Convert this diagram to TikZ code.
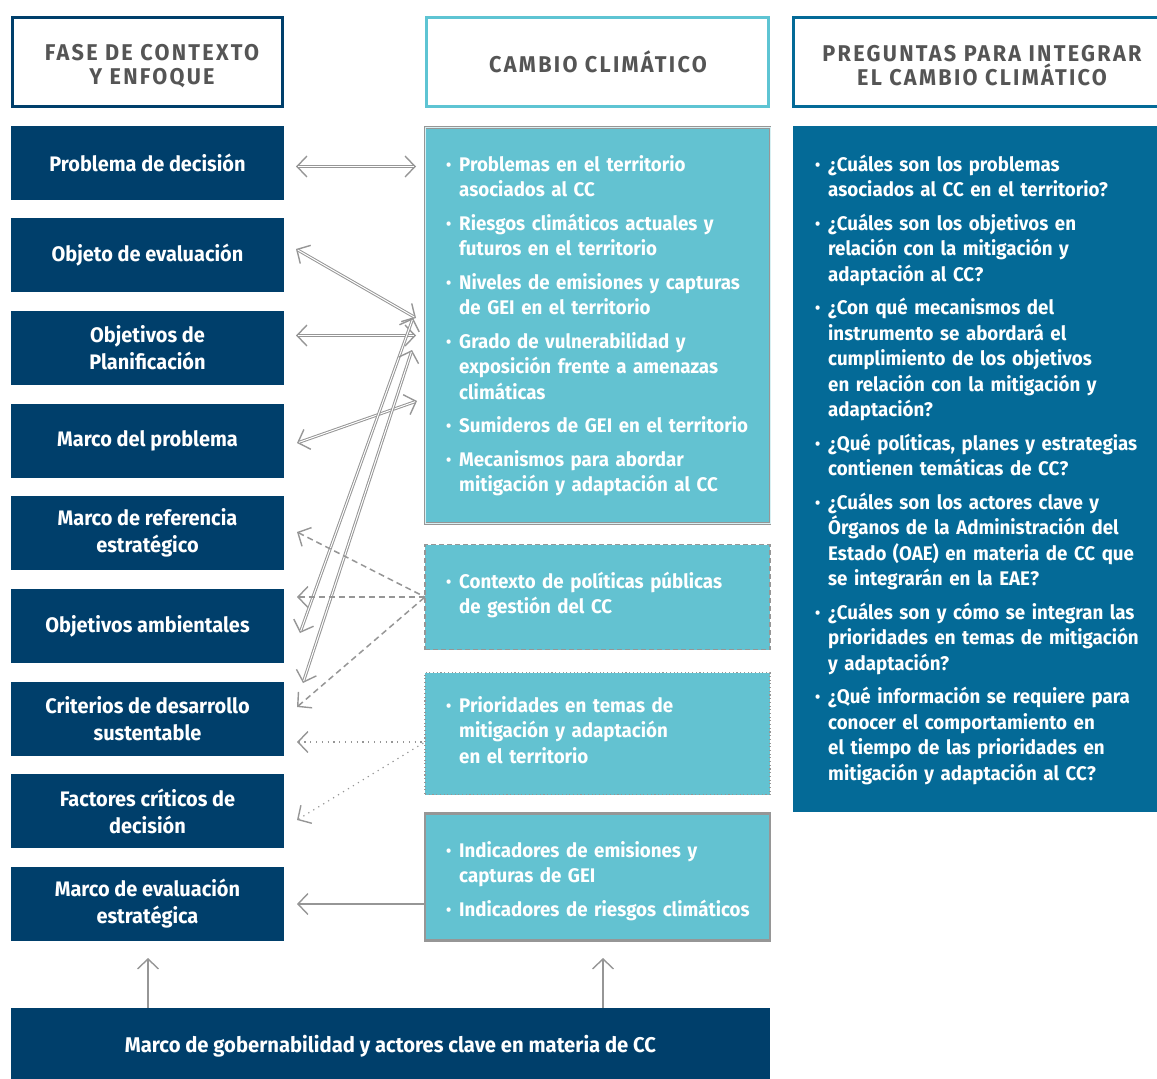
\documentclass[tikz,border=0pt]{standalone}
\usepackage{fontspec}
\setmainfont{Fira Sans}[FakeStretch=0.95]
\usetikzlibrary{arrows.meta,calc}
\definecolor{dkblue}{HTML}{003F6B}
\definecolor{tealbox}{HTML}{63C2D1}
\definecolor{rblue}{HTML}{046A97}
\definecolor{hdteal}{HTML}{5EC4D3}
\definecolor{hdtext}{HTML}{555555}
\definecolor{agray}{HTML}{969696}
\newcommand{\bu}{\makebox[13pt][l]{\raisebox{1pt}{\scalebox{0.8}{\textbullet}}}}
\newcommand{\ind}{\hspace*{13pt}}
\begin{document}
\begin{tikzpicture}[x=1pt,y=-1pt,
  >={Straight Barb[length=10pt,width=21pt,line width=1.4pt]},
  hdbox/.style={draw, line width=3pt, fill=white, minimum width=270pt, minimum height=89pt, inner sep=0pt},
  hdtextstyle/.style={align=center, inner sep=0pt, text=hdtext,
     font=\fontsize{22.8}{24}\selectfont\bfseries\addfontfeatures{LetterSpace=10}},
  leftbox/.style={fill=dkblue, minimum width=273pt, minimum height=74pt, align=center, inner sep=0pt,
     text=white, font=\fontsize{21}{27}\selectfont\bfseries},
  midbox/.style={fill=tealbox, minimum width=345pt, inner sep=0pt},
  itemtext/.style={text=white, anchor=base west, inner sep=0pt, text width=330pt,
     font=\fontsize{19.7}{25.5}\selectfont\bfseries, align=left},
  dline/.style={draw=agray, line width=3pt, <->,
     postaction={draw=white, line width=1pt, shorten <=2pt, shorten >=2pt, -}},
  dshline/.style={draw=agray, line width=1.5pt, dash pattern=on 6pt off 4pt, <-},
  dotline/.style={draw=agray, line width=1.2pt, dash pattern=on 1.2pt off 4.6pt, <-},
  plainline/.style={draw=agray, line width=1.8pt, <-}
]
\clip (0,0) rectangle (1157,1079);
\useasboundingbox (0,0) rectangle (1157,1079);

% headers
\node[hdbox, draw=dkblue] (h1) at (147.5,62) {};
\node[hdbox, draw=hdteal, minimum width=342pt] (h2) at (597.5,62) {};
\node[hdbox, draw=rblue, minimum width=380pt] (h3) at (983,62) {};
\node[hdtextstyle] (h1t) at (152,66) {FASE DE CONTEXTO\\Y ENFOQUE};
\node[hdtextstyle] (h2t) at (598,62) {CAMBIO CLIMÁTICO};
\node[hdtextstyle] (h3t) at (982,66) {PREGUNTAS PARA INTEGRAR\\EL CAMBIO CLIMÁTICO};

% left column
\node[leftbox] (prob) at (147.5,163) {\raisebox{-1.5pt}{Problema de decisión}};
\node[leftbox] (obj)  at (147.5,255) {\raisebox{-1.5pt}{Objeto de evaluación}};
\node[leftbox] (plan) at (147.5,348) {Objetivos de\\Planificación};
\node[leftbox] (mprob) at (147.5,441) {\raisebox{-1.5pt}{Marco del problema}};
\node[leftbox] (mref) at (147.5,533) {Marco de referencia\\estratégico};
\node[leftbox] (oamb) at (147.5,626) {\raisebox{-1.5pt}{Objetivos ambientales}};
\node[leftbox] (crit) at (147.5,719) {Criterios de desarrollo\\sustentable};
\node[leftbox] (fcd)  at (147.5,811) {Factores críticos de\\decisión};
\node[leftbox] (meval) at (147.5,904) {Marco de evaluación\\estratégica};

% middle column boxes
\node[midbox, minimum height=396pt, draw=agray, double=white!75!tealbox, double distance=1pt, line width=0.8pt] (m1) at (597.5,325.5) {};
\node[midbox, minimum height=105pt, draw=agray, line width=1.5pt, dash pattern=on 5pt off 3pt] (m2) at (597.5,597) {};
\node[midbox, minimum height=122pt, draw=agray, line width=1.1pt, dash pattern=on 1.1pt off 2.6pt] (m3) at (597.5,733.5) {};
\node[midbox, minimum height=127pt, draw=agray, line width=2.5pt] (m4) at (597.5,877) {};

\node[itemtext] (t1) at (446,171) {%
\bu Problemas en el territorio\\ \ind asociados al CC\\[8pt]
\bu Riesgos climáticos actuales y\\ \ind futuros en el territorio\\[8pt]
\bu Niveles de emisiones y capturas\\ \ind de GEI en el territorio\\[8pt]
\bu Grado de vulnerabilidad y\\ \ind exposición frente a amenazas\\ \ind climáticas\\[8pt]
\bu Sumideros de GEI en el territorio\\[8pt]
\bu Mecanismos para abordar\\ \ind mitigación y adaptación al CC};
\node[itemtext] (t2) at (446,588) {%
\bu Contexto de políticas públicas\\ \ind de gestión del CC};
\node[itemtext] (t3) at (446,712) {%
\bu Prioridades en temas de\\ \ind mitigación y adaptación\\ \ind en el territorio};
\node[itemtext] (t4) at (446,857) {%
\bu Indicadores de emisiones y\\ \ind capturas de GEI\\[8pt]
\bu Indicadores de riesgos climáticos};

% right panel
\node[fill=rblue, minimum width=370pt, minimum height=686pt, inner sep=0pt] (rp) at (978,469) {};
\node[itemtext, text width=340pt] (t5) at (815,171) {%
\bu ¿Cuáles son los problemas\\ \ind asociados al CC en el territorio?\\[8pt]
\bu ¿Cuáles son los objetivos en\\ \ind relación con la mitigación y\\ \ind adaptación al CC?\\[8pt]
\bu ¿Con qué mecanismos del\\ \ind instrumento se abordará el\\ \ind cumplimiento de los objetivos\\ \ind en relación con la mitigación y\\ \ind adaptación?\\[8pt]
\bu ¿Qué políticas, planes y estrategias\\ \ind contienen temáticas de CC?\\[8pt]
\bu ¿Cuáles son los actores clave y\\ \ind Órganos de la Administración del\\ \ind Estado (OAE) en materia de CC que\\ \ind se integrarán en la EAE?\\[8pt]
\bu ¿Cuáles son y cómo se integran las\\ \ind prioridades en temas de mitigación\\ \ind y adaptación?\\[8pt]
\bu ¿Qué información se requiere para\\ \ind conocer el comportamiento en\\ \ind el tiempo de las prioridades en\\ \ind mitigación y adaptación al CC?};

% bottom box
\node[fill=dkblue, minimum width=759pt, minimum height=71pt, inner sep=0pt] (gob) at (390.5,1043.5) {};
\node[inner sep=0pt, text=white, font=\fontsize{21.3}{24}\selectfont\bfseries] (gobt) at (390.5,1046)
  {Marco de gobernabilidad y actores clave en materia de CC};

% connector end points
\coordinate (pa1) at (296,166.5); \coordinate (pa2) at (416,166.5);
\coordinate (pb1) at (296,249); \coordinate (pb2) at (416,318);
\coordinate (pc1) at (296,335.5); \coordinate (pc2) at (416,335.5);
\coordinate (pd1) at (297,443); \coordinate (pd2) at (417,401);
\coordinate (pe1) at (300,633); \coordinate (pe2) at (413,318);
\coordinate (pf1) at (303,683); \coordinate (pf2) at (412,350);
\coordinate (qs) at (425,597);
\coordinate (q1) at (297,532); \coordinate (q2) at (297,597); \coordinate (q3) at (297,707);
\coordinate (rs) at (425,742);
\coordinate (r1) at (297,742); \coordinate (r2) at (297,820);
\coordinate (ss) at (425,904); \coordinate (s1) at (297,904);
\coordinate (u1) at (148,958); \coordinate (u2) at (603,958);

\draw[dline] (pa1) -- (pa2);
\draw[dline] (pb1) -- (pb2);
\draw[dline] (pc1) -- (pc2);
\draw[dline] (pd1) -- (pd2);
\draw[dline] (pe1) -- (pe2);
\draw[dline] (pf1) -- (pf2);

\draw[dshline] (q1) -- (qs);
\draw[dshline] (q2) -- (qs);
\draw[dshline] (q3) -- (qs);
\draw[dotline] (r1) -- (rs);
\draw[dotline] (r2) -- (rs);
\draw[plainline] (s1) -- (ss);

\draw[plainline] (u1) -- (u1 |- gob.north);
\draw[plainline] (u2) -- (u2 |- gob.north);
\end{tikzpicture}
\end{document}
